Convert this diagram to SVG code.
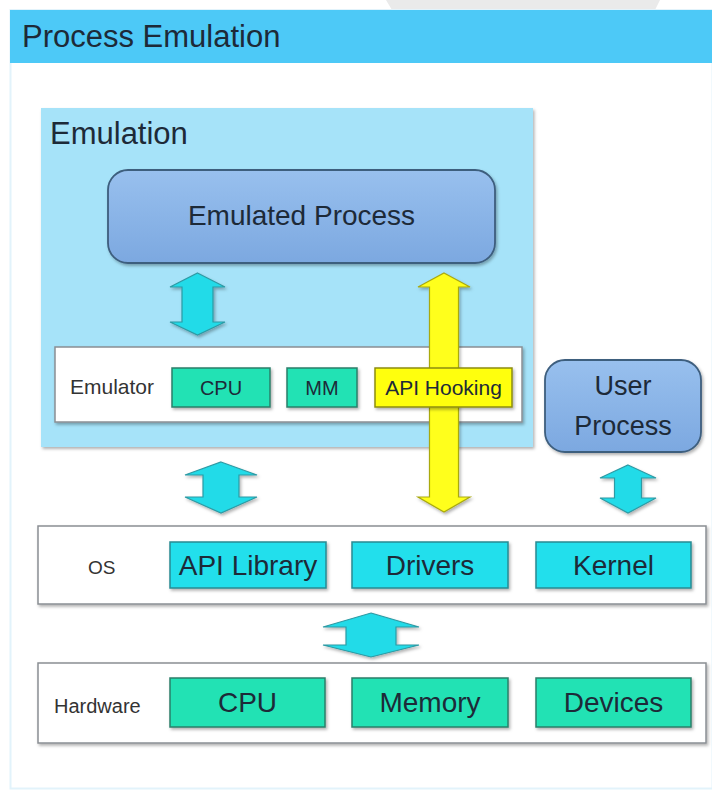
<svg xmlns="http://www.w3.org/2000/svg" width="712" height="791" viewBox="0 0 712 791">
<style>
text{font-family:"Liberation Sans",Arial,sans-serif;fill:#1d2a38}
.lbl{fill:#333}
.mid{text-anchor:middle}
.layer{fill:#fff;stroke:#8a8f94;stroke-width:1.5}
.green{fill:#22e2b4;stroke:#2b7f6a;stroke-width:1.5}
.cyan{fill:#22dfec;stroke:#2a8a93;stroke-width:1.5}
.yellow{fill:#ffff10;stroke:#8d8d10;stroke-width:1.5}
.proc{fill:url(#pg);stroke:#3e5e7e;stroke-width:1.8}
.carrow{fill:#22dbe8;stroke:#2e9aa4;stroke-width:1.2}
.yarrow{fill:#ffff1a;stroke:#a9a910;stroke-width:1.2}
</style>
<defs>
<linearGradient id="pg" x1="0" y1="0" x2="0" y2="1">
<stop offset="0" stop-color="#98c0ee"/>
<stop offset="1" stop-color="#7ca8e0"/>
</linearGradient>
<filter id="sh" x="-10%" y="-10%" width="130%" height="140%">
<feDropShadow dx="1.5" dy="2" stdDeviation="1.5" flood-color="#000" flood-opacity="0.3"/>
</filter>
</defs>
<rect width="712" height="791" fill="#fff"/>
<path d="M386,0 L392,10 L655,10 L660,0 Z" fill="#eaeaea"/>
<rect x="10.5" y="10" width="702" height="778.5" fill="#fff" stroke="#e2f3fb" stroke-width="2"/>
<g id="header">
<rect x="10" y="10" width="702" height="53" fill="#4dc9f7"/>
<text x="22" y="47" font-size="31">Process Emulation</text>
</g>
<g id="emulation">
<rect x="41" y="108" width="492" height="339" fill="#a6e3f9" filter="url(#sh)"/>
<text x="50" y="144" font-size="31">Emulation</text>
</g>
<g id="emulated-process">
<rect x="108" y="170" width="387" height="93" rx="20" class="proc" filter="url(#sh)"/>
<text x="301.5" y="225" font-size="28" class="mid">Emulated Process</text>
</g>
<g id="emulator">
<rect x="55" y="347" width="467" height="75" class="layer" filter="url(#sh)"/>
<text x="70" y="394" font-size="21" class="lbl">Emulator</text>
</g>
<g id="connectors" filter="url(#sh)">
<path class="carrow" d="M197.5,273 L225,287 L213,287 L213,322 L225,322 L197.5,335 L170,322 L182,322 L182,287 L170,287 Z"/>
<path class="yarrow" d="M444,273 L470,287 L458.5,287 L458.5,497 L470,497 L444,512 L418,497 L429.5,497 L429.5,287 L418,287 Z"/>
<path class="carrow" d="M221,462 L257,475 L239,475 L239,497 L257,497 L221,513 L185,497 L203,497 L203,475 L185,475 Z"/>
<path class="carrow" d="M628,465 L656,478 L641.5,478 L641.5,498 L656,498 L628,513 L600,498 L614.5,498 L614.5,478 L600,478 Z"/>
<path class="carrow" d="M371,613 L419,627 L396,627 L396,645 L419,645 L371,657 L323,645 L346,645 L346,627 L323,627 Z"/>
</g>
<g id="emu-cpu">
<rect x="172" y="368" width="98" height="39" class="green" filter="url(#sh)"/>
<text x="221" y="395" font-size="20" class="mid">CPU</text>
</g>
<g id="emu-mm">
<rect x="287" y="368" width="70" height="39" class="green" filter="url(#sh)"/>
<text x="322" y="395" font-size="20" class="mid">MM</text>
</g>
<g id="api-hooking">
<rect x="375" y="368" width="137" height="39" class="yellow" filter="url(#sh)"/>
<text x="443.5" y="395" font-size="21" class="mid">API Hooking</text>
</g>
<g id="user-process">
<rect x="545" y="360" width="156" height="92" rx="20" class="proc" filter="url(#sh)"/>
<text x="623" y="395" font-size="27" class="mid">User</text>
<text x="623" y="435" font-size="27" class="mid">Process</text>
</g>
<g id="os">
<rect x="38" y="526" width="668" height="78" class="layer" filter="url(#sh)"/>
<text x="88" y="574" font-size="19" class="lbl">OS</text>
</g>
<g id="api-library">
<rect x="170" y="542" width="156" height="46" class="cyan" filter="url(#sh)"/>
<text x="248" y="575" font-size="28" class="mid">API Library</text>
</g>
<g id="drivers">
<rect x="352" y="542" width="156" height="46" class="cyan" filter="url(#sh)"/>
<text x="430" y="575" font-size="28" class="mid">Drivers</text>
</g>
<g id="kernel">
<rect x="536" y="542" width="155" height="46" class="cyan" filter="url(#sh)"/>
<text x="613.5" y="575" font-size="28" class="mid">Kernel</text>
</g>
<g id="hardware">
<rect x="38" y="663" width="668" height="80" class="layer" filter="url(#sh)"/>
<text x="54" y="713" font-size="20" class="lbl">Hardware</text>
</g>
<g id="hw-cpu">
<rect x="170" y="678" width="155" height="49" class="green" filter="url(#sh)"/>
<text x="247.5" y="712" font-size="28" class="mid">CPU</text>
</g>
<g id="memory">
<rect x="352" y="678" width="156" height="49" class="green" filter="url(#sh)"/>
<text x="430" y="712" font-size="28" class="mid">Memory</text>
</g>
<g id="devices">
<rect x="536" y="678" width="155" height="49" class="green" filter="url(#sh)"/>
<text x="613.5" y="712" font-size="28" class="mid">Devices</text>
</g>
</svg>
